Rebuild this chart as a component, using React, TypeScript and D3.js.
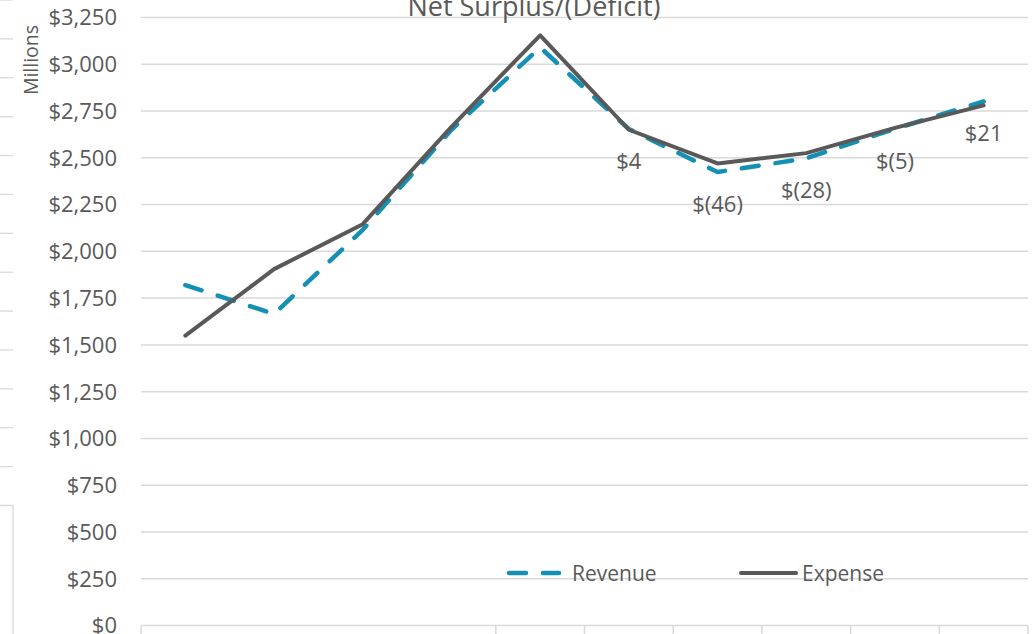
import React from "react";
import * as d3 from "d3";

// Ten fiscal periods (axis labels are not shown on this chart)
const periods = ["P1", "P2", "P3", "P4", "P5", "P6", "P7", "P8", "P9", "P10"];

// Values in millions of dollars
const expense = [1550, 1905, 2145, 2665, 3155, 2650, 2470, 2525, 2660, 2780];
const revenue = [1820, 1665, 2115, 2650, 3090, 2654, 2424, 2497, 2655, 2801];

// Surplus/(deficit) labels are shown for these periods only
const labelledPeriods = [5, 6, 7, 8, 9];

// Y axis ticks
const yTicks = [0, 250, 500, 750, 1000, 1250, 1500, 1750, 2000, 2250, 2500, 2750, 3000, 3250];

// Category boundaries that carry a tick mark on the x axis
const xTickBoundaries = [0, 4, 5, 6, 7, 8, 9, 10];

// Gridline stubs of the neighbouring chart at the left edge
const sideGridRows = [0, 1, 2, 3, 4, 5, 6, 7, 8, 9, 10, 11, 12];

const W = 1036;
const H = 634;
const FONT = "'Open Sans', 'Noto Sans', sans-serif";
const TEXT = "#595959";
const GRID = "#d9d9d9";
const REV = "#1590b5";
const EXP = "#595959";

const plot = { left: 141, right: 1028, top: 17.5, bottom: 625.5 };

const money = (v: number) => {
  const s = d3.format(",")(Math.abs(Math.round(v)));
  return v < 0 ? `$(${s})` : `$${s}`;
};

export default function App() {
  const x = d3
    .scaleBand<string>()
    .domain(periods)
    .range([plot.left, plot.right])
    .padding(0);
  const cx = (i: number) => (x(periods[i]) as number) + x.bandwidth() / 2;
  const boundary = (k: number) => plot.left + k * x.step();

  const y = d3.scaleLinear().domain([0, 3250]).range([plot.bottom, plot.top]);

  const line = d3
    .line<number>()
    .x((_, i) => cx(i))
    .y((d) => y(d));

  const side = d3.scaleLinear().domain([0, 13]).range([0, 505.5]);

  return (
    <svg
      width={W}
      height={H}
      viewBox={`0 0 ${W} ${H}`}
      style={{ position: "absolute", left: 0, top: 0, background: "#fff" }}
      fontFamily={FONT}
    >
      {/* neighbouring chart's gridlines cut at the left edge */}
      {sideGridRows.map((r) => (
        <line
          key={`s${r}`}
          x1={0}
          x2={13}
          y1={side(r)}
          y2={side(r)}
          stroke={GRID}
          strokeWidth={1.3}
        />
      ))}
      <path d={`M0,${side(13)}H13V${H}`} fill="none" stroke={GRID} strokeWidth={1.3} />

      {/* horizontal gridlines */}
      {yTicks.map((t) => (
        <line
          key={`g${t}`}
          x1={plot.left}
          x2={plot.right}
          y1={y(t)}
          y2={y(t)}
          stroke={GRID}
          strokeWidth={1.5}
        />
      ))}

      {/* x axis ticks */}
      {xTickBoundaries.map((k) => (
        <line
          key={`xt${k}`}
          x1={boundary(k)}
          x2={boundary(k)}
          y1={plot.bottom}
          y2={H}
          stroke={GRID}
          strokeWidth={1.5}
        />
      ))}

      {/* y tick labels */}
      {yTicks.map((t) => (
        <text
          key={`yl${t}`}
          x={117}
          y={y(t)}
          dy="0.36em"
          textAnchor="end"
          fontSize={22}
          fill={TEXT}
        >
          {money(t)}
        </text>
      ))}

      <text
        transform={`translate(38,60) rotate(-90)`}
        textAnchor="middle"
        fontSize={19.5}
        fill={TEXT}
      >
        Millions
      </text>

      <text x={534} y={16} textAnchor="middle" fontSize={27} fill={TEXT}>
        Net Surplus/(Deficit)
      </text>

      {/* series */}
      <path
        d={line(revenue) as string}
        fill="none"
        stroke={REV}
        strokeWidth={4.5}
        strokeDasharray="17 17"
        strokeLinecap="round"
        strokeLinejoin="round"
      />
      <path
        d={line(expense) as string}
        fill="none"
        stroke={EXP}
        strokeWidth={4}
        strokeLinecap="round"
        strokeLinejoin="round"
      />

      {/* surplus/(deficit) labels */}
      {labelledPeriods.map((i) => (
        <text
          key={`dl${i}`}
          x={cx(i)}
          y={y(revenue[i]) + 32}
          dy="0.36em"
          textAnchor="middle"
          fontSize={22}
          fill={TEXT}
        >
          {money(revenue[i] - expense[i])}
        </text>
      ))}

      {/* legend */}
      <g>
        <line
          x1={509}
          x2={559}
          y1={573}
          y2={573}
          stroke={REV}
          strokeWidth={4.5}
          strokeDasharray="17 17"
          strokeLinecap="round"
        />
        <text x={572} y={573} dy="0.36em" fontSize={21} fill={TEXT}>
          Revenue
        </text>
        <line
          x1={741}
          x2={796}
          y1={573}
          y2={573}
          stroke={EXP}
          strokeWidth={4}
          strokeLinecap="round"
        />
        <text x={802} y={573} dy="0.36em" fontSize={21} fill={TEXT}>
          Expense
        </text>
      </g>
    </svg>
  );
}
